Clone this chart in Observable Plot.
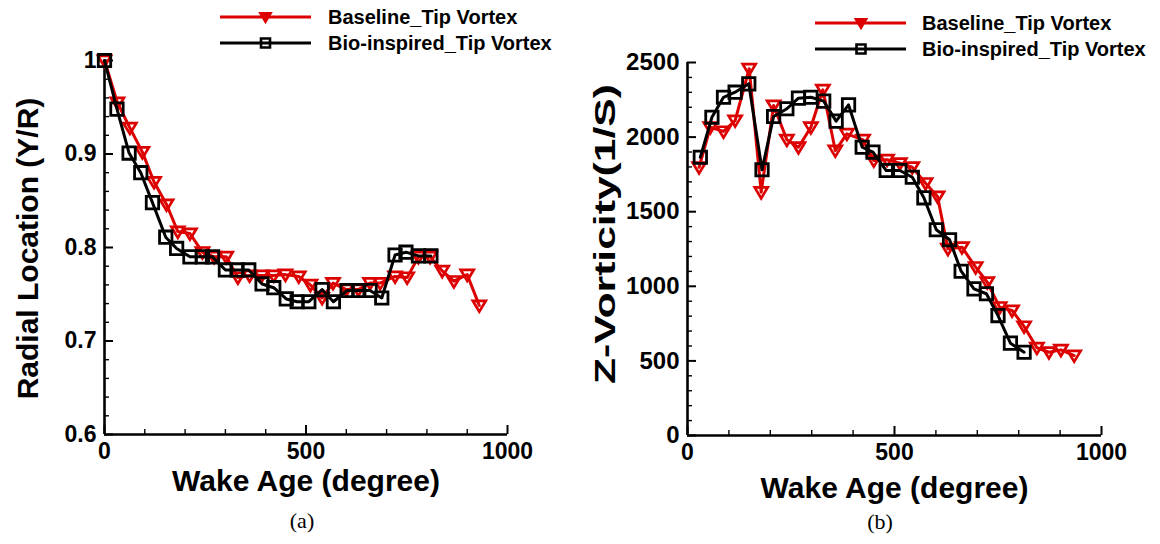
<!DOCTYPE html>
<html>
<head>
<meta charset="utf-8">
<script src="https://cdn.jsdelivr.net/npm/d3@7"></script>
<script src="https://cdn.jsdelivr.net/npm/@observablehq/plot@0.6"></script>
<style>
  body { margin: 0; background: #fff; }
  #wrap { position: relative; width: 1160px; height: 544px; overflow: hidden; background: #fff; }
  .panel { position: absolute; top: 0; }
  .legend { position: absolute; top: 0; }
  .cap { position: absolute; font-family: "Liberation Serif", "Times New Roman", serif; font-size: 22px; color: #000; transform: translate(-50%, -50%); }
</style>
</head>
<body>
<div id="wrap"></div>
<script>
// ---------- Data ----------
// Panel (a): radial location of the tip vortex
const baselineAgeA = [0, 32, 63, 94, 123, 154, 182, 212, 243, 272, 302, 331, 360, 390, 420, 449, 482, 511, 540, 567, 600, 630, 659, 684, 721, 751, 779, 808, 838, 867, 900, 930];
const baselineRadialA = [1.000, 0.955, 0.928, 0.902, 0.870, 0.846, 0.817, 0.815, 0.795, 0.790, 0.790, 0.768, 0.770, 0.770, 0.770, 0.771, 0.769, 0.760, 0.746, 0.762, 0.755, 0.755, 0.762, 0.762, 0.769, 0.768, 0.790, 0.790, 0.775, 0.764, 0.771, 0.738];
const bioAgeA = [0, 31, 61, 90, 119, 152, 179, 212, 243, 268, 300, 329, 358, 391, 420, 451, 478, 507, 540, 568, 602, 631, 659, 688, 721, 748, 779, 810];
const bioRadialA = [1.000, 0.948, 0.901, 0.880, 0.848, 0.811, 0.799, 0.790, 0.790, 0.790, 0.776, 0.776, 0.776, 0.761, 0.757, 0.745, 0.742, 0.742, 0.755, 0.742, 0.754, 0.754, 0.754, 0.746, 0.792, 0.795, 0.791, 0.791];

// Panel (b): Z-vorticity of the tip vortex
const baselineAgeB = [28, 55, 87, 115, 149, 178, 208, 240, 268, 298, 327, 357, 385, 424, 450, 482, 513, 543, 575, 604, 629, 663, 696, 724, 754, 784, 813, 844, 873, 902, 934];
const baselineVortB = [1798, 2066, 2038, 2111, 2458, 1631, 2212, 1982, 1932, 2066, 2317, 1910, 2022, 1982, 1843, 1848, 1825, 1798, 1691, 1602, 1251, 1262, 1128, 1027, 860, 838, 731, 588, 558, 574, 536];
const bioAgeB = [31, 59, 87, 115, 148, 180, 208, 240, 268, 298, 329, 359, 389, 422, 448, 480, 513, 543, 571, 601, 633, 661, 692, 722, 750, 780, 813];
const bioVortB = [1865, 2133, 2267, 2301, 2357, 1781, 2138, 2190, 2261, 2267, 2241, 2107, 2216, 1932, 1899, 1776, 1776, 1731, 1593, 1379, 1312, 1101, 983, 950, 804, 619, 558];

// Series names and axis tick values
const seriesNames = ["Baseline_Tip Vortex", "Bio-inspired_Tip Vortex"];
const xMajorTicks = [0, 500, 1000];
const xMinorTicks = [100, 200, 300, 400, 600, 700, 800, 900];
const yMajorTicksA = [0.6, 0.7, 0.8, 0.9, 1.0];
const yMinorTicksA = [0.62, 0.64, 0.66, 0.68, 0.72, 0.74, 0.76, 0.78, 0.82, 0.84, 0.86, 0.88, 0.92, 0.94, 0.96, 0.98];
const yMajorTicksB = [0, 500, 1000, 1500, 2000, 2500];
const yMinorTicksB = [100, 200, 300, 400, 600, 700, 800, 900, 1100, 1200, 1300, 1400, 1600, 1700, 1800, 1900, 2100, 2200, 2300, 2400];
const captions = ["(a)", "(b)"];

// ---------- Styling ----------
const RED = "#dc0000";
const BLACK = "#000000";
const FONT = "'Liberation Sans', Arial, Helvetica, sans-serif";
const W = 580, H = 544;

const downTriangle = {
  draw(ctx, size) {
    const r = Math.sqrt(size / Math.PI);
    ctx.moveTo(-r, -0.72 * r);
    ctx.lineTo(r, -0.72 * r);
    ctx.lineTo(0, 0.95 * r);
    ctx.closePath();
  }
};
const squareSym = {
  draw(ctx, size) {
    const r = Math.sqrt(size / Math.PI);
    ctx.moveTo(-r, -r);
    ctx.lineTo(r, -r);
    ctx.lineTo(r, r);
    ctx.lineTo(-r, r);
    ctx.closePath();
  }
};

const zip = (xs, ys) => xs.map((x, i) => ({x, y: ys[i]}));

function panel(cfg) {
  const red = zip(cfg.redX, cfg.redY);
  const blk = zip(cfg.blkX, cfg.blkY);
  const fw = W - cfg.mL - cfg.mR;   // frame width in px
  const fh = H - cfg.mT - cfg.mB;   // frame height in px
  const [y0, y1] = cfg.yDomain;
  // inward tick marks: rules spanning the frame, inset so only the given pixel length remains
  const xTicks = (vals, len, sw) => Plot.ruleX(vals, {x: d => d, y1: y1, y2: y0, insetTop: fh - len, stroke: BLACK, strokeWidth: sw});
  const yTicks = (vals, len, sw) => Plot.ruleY(vals, {y: d => d, x1: 0, x2: 1000, insetRight: fw - len, stroke: BLACK, strokeWidth: sw});
  const svg = Plot.plot({
    width: W,
    height: H,
    marginLeft: cfg.mL,
    marginRight: cfg.mR,
    marginTop: cfg.mT,
    marginBottom: cfg.mB,
    style: {fontFamily: FONT, fontWeight: "bold", fontSize: "22px", background: "#fff", color: "#000", overflow: "visible"},
    x: {domain: [0, 1000], axis: null},
    y: {domain: cfg.yDomain, axis: null},
    marks: [
      // tick labels only (ticks drawn inward below)
      Plot.axisX(xMajorTicks, {anchor: "bottom", tickSize: 0, tickPadding: 8, tickFormat: d => String(d), fontSize: 23, fontWeight: "bold", label: null}),
      Plot.axisY(cfg.yMajor, {anchor: "left", tickSize: 0, tickPadding: 8, tickFormat: cfg.yFmt, fontSize: cfg.yFont, fontWeight: "bold", label: null}),
      // inward tick marks
      xTicks(xMinorTicks, 5, 1.4),
      yTicks(cfg.yMinor, 5, 1.4),
      xTicks(xMajorTicks, 9, 2),
      yTicks(cfg.yMajor, 9, 2),
      // axis lines
      Plot.ruleX([0], {stroke: BLACK, strokeWidth: 2.6}),
      Plot.ruleY([y0], {stroke: BLACK, strokeWidth: 2.6}),
      // baseline series
      Plot.line(red, {x: "x", y: "y", stroke: RED, strokeWidth: 3}),
      Plot.dot(red, {x: "x", y: "y", symbol: downTriangle, r: 6.5, stroke: RED, strokeWidth: 2.7, fill: "none"}),
      // bio-inspired series
      Plot.line(blk, {x: "x", y: "y", stroke: BLACK, strokeWidth: 3}),
      Plot.dot(blk, {x: "x", y: "y", symbol: squareSym, r: 6.2, stroke: BLACK, strokeWidth: 2.8, fill: "none"}),
      // axis titles
      Plot.text([cfg.xTitle], {text: d => d, frameAnchor: "bottom", dy: cfg.xTitleDy, lineAnchor: "middle", textAnchor: "middle", fontSize: 30, fontWeight: "bold", fill: BLACK}),
      Plot.text([cfg.yTitle], {text: d => d, frameAnchor: "left", dx: cfg.yTitleDx, dy: cfg.yTitleDy, rotate: -90, lineAnchor: "middle", textAnchor: "middle", fontSize: 30, fontWeight: "bold", fill: BLACK})
    ]
  });
  if (cfg.yTitleLen) {
    d3.select(svg).selectAll("text").filter(function() { return this.textContent === cfg.yTitle; })
      .attr("textLength", cfg.yTitleLen).attr("lengthAdjust", "spacingAndGlyphs");
  }
  return svg;
}

function legend(left, top, rows) {
  const s = d3.create("svg").attr("width", 360).attr("height", 70).style("overflow", "visible");
  rows.forEach(rw => {
    s.append("line").attr("x1", rw.x1).attr("x2", rw.x2).attr("y1", rw.y).attr("y2", rw.y)
      .attr("stroke", rw.color).attr("stroke-width", 3.2);
    const p = d3.path();
    rw.symbol.draw(p, Math.PI * rw.r * rw.r);
    s.append("path").attr("d", p.toString()).attr("transform", `translate(${rw.xm},${rw.y})`)
      .attr("fill", rw.fill).attr("stroke", rw.color).attr("stroke-width", 2.6);
    s.append("text").attr("x", rw.xt).attr("y", rw.y).attr("dy", "0.35em")
      .attr("font-family", FONT).attr("font-weight", "bold").attr("font-size", 20).attr("fill", "#000")
      .text(rw.name);
  });
  const node = s.node();
  node.classList.add("legend");
  node.style.left = left + "px";
  node.style.top = top + "px";
  return node;
}

const wrap = document.getElementById("wrap");

const leftSvg = panel({
  mL: 104, mR: 73, mT: 60, mB: 110,
  redX: baselineAgeA, redY: baselineRadialA, blkX: bioAgeA, blkY: bioRadialA,
  yDomain: [0.6, 1.0], yMajor: yMajorTicksA, yMinor: yMinorTicksA,
  yFmt: d => (d === 1 ? "1" : d.toFixed(1)), yFont: 23,
  xTitle: "Wake Age (degree)", xTitleDy: 47,
  yTitle: "Radial Location (Y/R)", yTitleDx: -76, yTitleDy: 1
});
leftSvg.classList.add("panel");
leftSvg.style.left = "0px";
wrap.appendChild(leftSvg);

const rightSvg = panel({
  mL: 107, mR: 59, mT: 62, mB: 109,
  redX: baselineAgeB, redY: baselineVortB, blkX: bioAgeB, blkY: bioVortB,
  yDomain: [0, 2500], yMajor: yMajorTicksB, yMinor: yMinorTicksB,
  yFmt: d => String(d), yFont: 24,
  xTitle: "Wake Age (degree)", xTitleDy: 53,
  yTitle: "Z-Vorticity(1/S)", yTitleDx: -82, yTitleDy: -15, yTitleLen: 300
});
rightSvg.classList.add("panel");
rightSvg.style.left = "580px";
wrap.appendChild(rightSvg);

// legends
wrap.appendChild(legend(0, 0, [
  {y: 17, x1: 220, x2: 311, xm: 265.5, xt: 328, color: RED, symbol: downTriangle, r: 5, fill: RED, name: seriesNames[0]},
  {y: 43, x1: 220, x2: 311, xm: 265.5, xt: 328, color: BLACK, symbol: squareSym, r: 4.5, fill: "none", name: seriesNames[1]}
]));
wrap.appendChild(legend(580, 0, [
  {y: 23, x1: 235, x2: 326, xm: 281, xt: 342, color: RED, symbol: downTriangle, r: 5, fill: RED, name: seriesNames[0]},
  {y: 49, x1: 235, x2: 326, xm: 281, xt: 342, color: BLACK, symbol: squareSym, r: 4.5, fill: "none", name: seriesNames[1]}
]));

// captions
[[captions[0], 302, 521], [captions[1], 880, 522]].forEach(([t, x, y]) => {
  const d = document.createElement("div");
  d.className = "cap";
  d.style.left = x + "px";
  d.style.top = y + "px";
  d.textContent = t;
  wrap.appendChild(d);
});
</script>
</body>
</html>
